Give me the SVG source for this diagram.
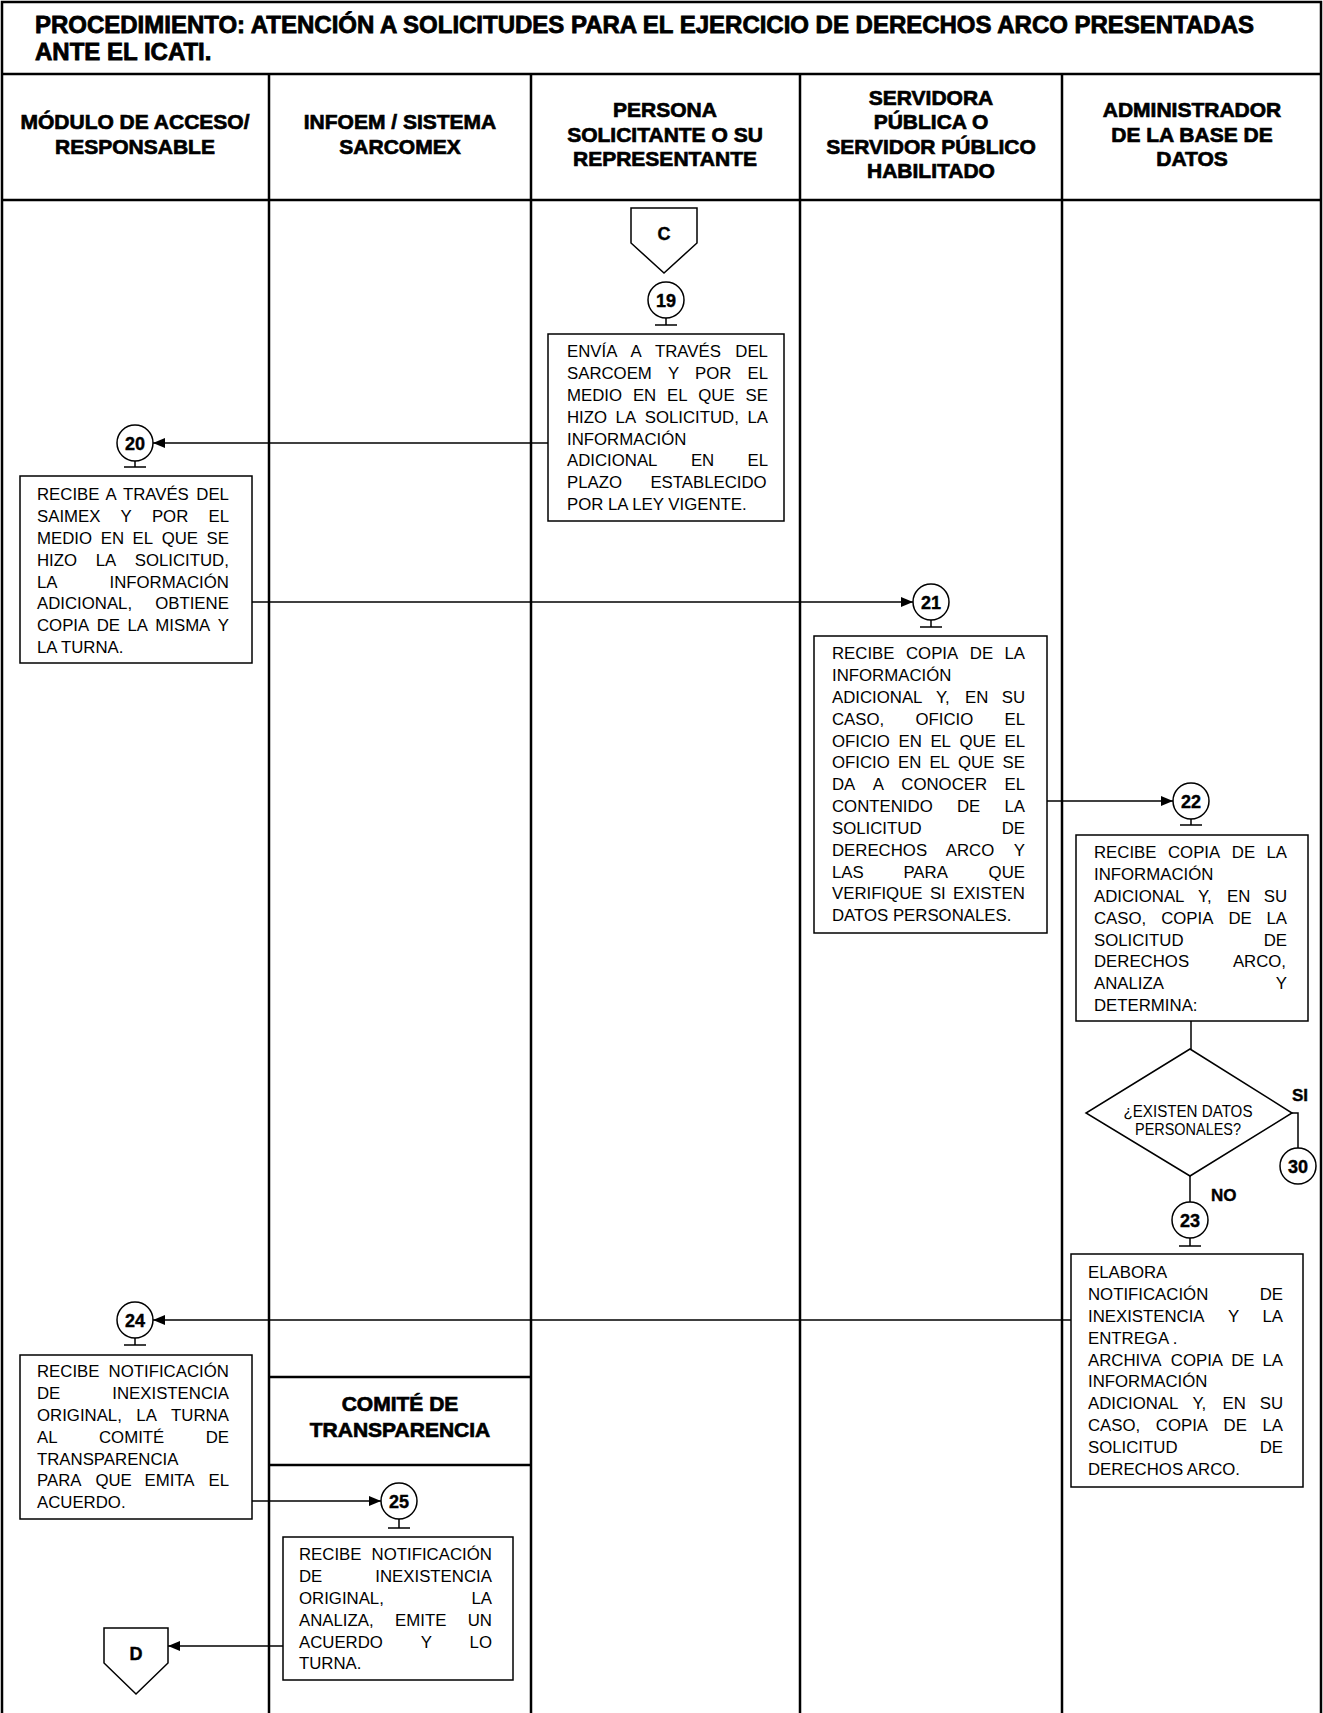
<svg xmlns="http://www.w3.org/2000/svg" width="1323" height="1713" viewBox="0 0 1323 1713">
<style>
.ln{stroke:#000;stroke-width:2.5;fill:none}
.bx{stroke:#000;stroke-width:1.5;fill:#fff}
.cn{stroke:#000;stroke-width:1.5;fill:none}
.t{font-family:"Liberation Sans",Arial,sans-serif;font-size:16.8px;fill:#000}
.h{font-family:"Liberation Sans",Arial,sans-serif;font-weight:bold;font-size:21px;text-anchor:middle;fill:#000;stroke:#000;stroke-width:0.7}
.ttl{font-family:"Liberation Sans",Arial,sans-serif;font-weight:bold;font-size:24px;fill:#000;stroke:#000;stroke-width:0.8}
.n{font-family:"Liberation Sans",Arial,sans-serif;font-weight:bold;font-size:18px;text-anchor:middle;fill:#000;stroke:#000;stroke-width:0.4}
.lb{font-family:"Liberation Sans",Arial,sans-serif;font-weight:bold;font-size:17px;fill:#000;stroke:#000;stroke-width:0.4}
.d{font-family:"Liberation Sans",Arial,sans-serif;font-size:16px;text-anchor:middle;fill:#000}
</style>
<defs>
<marker id="ah" viewBox="0 0 12 10" refX="12" refY="5" markerWidth="13" markerHeight="10" orient="auto" markerUnits="userSpaceOnUse"><path d="M0,0 L12,5 L0,10 z" fill="#000"/></marker>
</defs>
<rect x="0" y="0" width="1323" height="1713" fill="#fff"/>
<g id="lanes">
<path class="ln" d="M2,1713 V2 H1321 V1713 M2,74 H1321 M2,200 H1321 M269,74 V1713 M531,74 V1713 M800,74 V1713 M1062,74 V1713 M269,1377 H531 M269,1465 H531"/>
<text class="ttl" x="35" y="33" textLength="1219" lengthAdjust="spacing">PROCEDIMIENTO: ATENCIÓN A SOLICITUDES PARA EL EJERCICIO DE DERECHOS ARCO PRESENTADAS</text>
<text class="ttl" x="35" y="60">ANTE EL ICATI.</text>
<text class="h" x="135" y="129">MÓDULO DE ACCESO/</text>
<text class="h" x="135" y="154">RESPONSABLE</text>
<text class="h" x="400" y="129">INFOEM / SISTEMA</text>
<text class="h" x="400" y="154">SARCOMEX</text>
<text class="h" x="665" y="117">PERSONA</text>
<text class="h" x="665" y="142">SOLICITANTE O SU</text>
<text class="h" x="665" y="166">REPRESENTANTE</text>
<text class="h" x="931" y="105">SERVIDORA</text>
<text class="h" x="931" y="129">PÚBLICA O</text>
<text class="h" x="931" y="154">SERVIDOR PÚBLICO</text>
<text class="h" x="931" y="178">HABILITADO</text>
<text class="h" x="1192" y="117">ADMINISTRADOR</text>
<text class="h" x="1192" y="142">DE LA BASE DE</text>
<text class="h" x="1192" y="166">DATOS</text>
<text class="h" x="400" y="1411">COMITÉ DE</text>
<text class="h" x="400" y="1437">TRANSPARENCIA</text>
</g>
<g id="connectors">
<path class="cn" d="M548,443 H153" marker-end="url(#ah)"/>
<path class="cn" d="M252,602 H913" marker-end="url(#ah)"/>
<path class="cn" d="M1047,801 H1173" marker-end="url(#ah)"/>
<path class="cn" d="M1191,1021 V1049"/>
<path class="cn" d="M1292,1113 H1298 V1148"/>
<path class="cn" d="M1190,1176 V1202"/>
<path class="cn" d="M1071,1320 H153" marker-end="url(#ah)"/>
<path class="cn" d="M252,1501 H381" marker-end="url(#ah)"/>
<path class="cn" d="M283,1646 H168" marker-end="url(#ah)"/>
</g>
<g id="connector-C">
<path class="bx" d="M631,208 H697 V243 L664,273 L631,243 Z"/>
<text class="n" x="664" y="240">C</text>
</g>
<g id="node-19">
<circle class="bx" cx="666" cy="300" r="18"/>
<text class="n" x="666" y="306.5">19</text>
<path class="cn" d="M666,318 V325 M655,325 H677"/>
<rect class="bx" x="548" y="334" width="236" height="187"/>
<text class="t" y="357"><tspan x="567">ENVÍA</tspan><tspan x="630.6">A</tspan><tspan x="655">TRAVÉS</tspan><tspan x="735.3">DEL</tspan></text>
<text class="t" y="379"><tspan x="567">SARCOEM</tspan><tspan x="667.9">Y</tspan><tspan x="695.1">POR</tspan><tspan x="747.5">EL</tspan></text>
<text class="t" y="401"><tspan x="567">MEDIO</tspan><tspan x="632.9">EN</tspan><tspan x="667">EL</tspan><tspan x="698.3">QUE</tspan><tspan x="745.6">SE</tspan></text>
<text class="t" y="422.5"><tspan x="567">HIZO</tspan><tspan x="615.6">LA</tspan><tspan x="644.7">SOLICITUD,</tspan><tspan x="747.5">LA</tspan></text>
<text class="t" x="567" y="444.5">INFORMACIÓN</text>
<text class="t" y="466"><tspan x="567">ADICIONAL</tspan><tspan x="690.9">EN</tspan><tspan x="747.5">EL</tspan></text>
<text class="t" y="488"><tspan x="567">PLAZO</tspan><tspan x="650.4">ESTABLECIDO</tspan></text>
<text class="t" x="567" y="510">POR LA LEY VIGENTE.</text>
</g>
<g id="node-20">
<circle class="bx" cx="135" cy="443" r="18"/>
<text class="n" x="135" y="449.5">20</text>
<path class="cn" d="M135,461 V467 M124,467 H146"/>
<rect class="bx" x="20" y="476" width="232" height="187"/>
<text class="t" y="500"><tspan x="37">RECIBE</tspan><tspan x="105.6">A</tspan><tspan x="122.9">TRAVÉS</tspan><tspan x="196.3">DEL</tspan></text>
<text class="t" y="522"><tspan x="37">SAIMEX</tspan><tspan x="120.6">Y</tspan><tspan x="151.9">POR</tspan><tspan x="208.5">EL</tspan></text>
<text class="t" y="544"><tspan x="37">MEDIO</tspan><tspan x="100.7">EN</tspan><tspan x="132.6">EL</tspan><tspan x="161.7">QUE</tspan><tspan x="206.6">SE</tspan></text>
<text class="t" y="565.5"><tspan x="37">HIZO</tspan><tspan x="95.7">LA</tspan><tspan x="134.7">SOLICITUD,</tspan></text>
<text class="t" y="587.5"><tspan x="37">LA</tspan><tspan x="109.5">INFORMACIÓN</tspan></text>
<text class="t" y="609"><tspan x="37">ADICIONAL,</tspan><tspan x="155.2">OBTIENE</tspan></text>
<text class="t" y="631"><tspan x="37">COPIA</tspan><tspan x="96.7">DE</tspan><tspan x="127.4">LA</tspan><tspan x="155.3">MISMA</tspan><tspan x="217.8">Y</tspan></text>
<text class="t" x="37" y="653">LA TURNA.</text>
</g>
<g id="node-21">
<circle class="bx" cx="931" cy="602" r="18"/>
<text class="n" x="931" y="608.5">21</text>
<path class="cn" d="M931,620 V627 M920,627 H942"/>
<rect class="bx" x="814" y="636" width="233" height="297"/>
<text class="t" y="659"><tspan x="832">RECIBE</tspan><tspan x="906">COPIA</tspan><tspan x="969.8">DE</tspan><tspan x="1004.5">LA</tspan></text>
<text class="t" x="832" y="681">INFORMACIÓN</text>
<text class="t" y="703"><tspan x="832">ADICIONAL</tspan><tspan x="935.9">Y,</tspan><tspan x="965.1">EN</tspan><tspan x="1001.7">SU</tspan></text>
<text class="t" y="724.5"><tspan x="832">CASO,</tspan><tspan x="915.5">OFICIO</tspan><tspan x="1004.5">EL</tspan></text>
<text class="t" y="746.5"><tspan x="832">OFICIO</tspan><tspan x="898.5">EN</tspan><tspan x="930.4">EL</tspan><tspan x="959.5">QUE</tspan><tspan x="1004.5">EL</tspan></text>
<text class="t" y="768"><tspan x="832">OFICIO</tspan><tspan x="898">EN</tspan><tspan x="929.4">EL</tspan><tspan x="958">QUE</tspan><tspan x="1002.6">SE</tspan></text>
<text class="t" y="790"><tspan x="832">DA</tspan><tspan x="872.7">A</tspan><tspan x="901.3">CONOCER</tspan><tspan x="1004.5">EL</tspan></text>
<text class="t" y="812"><tspan x="832">CONTENIDO</tspan><tspan x="957">DE</tspan><tspan x="1004.5">LA</tspan></text>
<text class="t" y="834"><tspan x="832">SOLICITUD</tspan><tspan x="1001.7">DE</tspan></text>
<text class="t" y="855.5"><tspan x="832">DERECHOS</tspan><tspan x="945.8">ARCO</tspan><tspan x="1013.8">Y</tspan></text>
<text class="t" y="877.5"><tspan x="832">LAS</tspan><tspan x="903.4">PARA</tspan><tspan x="988.6">QUE</tspan></text>
<text class="t" y="899"><tspan x="832">VERIFIQUE</tspan><tspan x="929.9">SI</tspan><tspan x="953.1">EXISTEN</tspan></text>
<text class="t" x="832" y="921">DATOS PERSONALES.</text>
</g>
<g id="node-22">
<circle class="bx" cx="1191" cy="801" r="18"/>
<text class="n" x="1191" y="807.5">22</text>
<path class="cn" d="M1191,819 V825 M1180,825 H1202"/>
<rect class="bx" x="1076" y="835" width="232" height="186"/>
<text class="t" y="858"><tspan x="1094">RECIBE</tspan><tspan x="1168">COPIA</tspan><tspan x="1231.8">DE</tspan><tspan x="1266.5">LA</tspan></text>
<text class="t" x="1094" y="880">INFORMACIÓN</text>
<text class="t" y="902"><tspan x="1094">ADICIONAL</tspan><tspan x="1197.9">Y,</tspan><tspan x="1227.1">EN</tspan><tspan x="1263.7">SU</tspan></text>
<text class="t" y="923.5"><tspan x="1094">CASO,</tspan><tspan x="1161.2">COPIA</tspan><tspan x="1228.4">DE</tspan><tspan x="1266.5">LA</tspan></text>
<text class="t" y="945.5"><tspan x="1094">SOLICITUD</tspan><tspan x="1263.7">DE</tspan></text>
<text class="t" y="967"><tspan x="1094">DERECHOS</tspan><tspan x="1232.9">ARCO,</tspan></text>
<text class="t" y="989"><tspan x="1094">ANALIZA</tspan><tspan x="1275.8">Y</tspan></text>
<text class="t" x="1094" y="1011">DETERMINA:</text>
</g>
<g id="decision">
<path class="bx" d="M1190,1049 L1292,1113 L1190,1176 L1086,1113 Z"/>
<text class="d" x="1188" y="1117" textLength="129" lengthAdjust="spacingAndGlyphs">¿EXISTEN DATOS</text>
<text class="d" x="1188" y="1135" textLength="106" lengthAdjust="spacingAndGlyphs">PERSONALES?</text>
<text class="lb" x="1292" y="1101">SI</text>
<text class="lb" x="1211" y="1201">NO</text>
</g>
<g id="node-30">
<circle class="bx" cx="1298" cy="1166" r="18"/>
<text class="n" x="1298" y="1172.5">30</text>
</g>
<g id="node-23">
<circle class="bx" cx="1190" cy="1220" r="18"/>
<text class="n" x="1190" y="1226.5">23</text>
<path class="cn" d="M1190,1238 V1246 M1179,1246 H1201"/>
<rect class="bx" x="1071" y="1254" width="232" height="233"/>
<text class="t" x="1088" y="1278">ELABORA</text>
<text class="t" y="1300"><tspan x="1088">NOTIFICACIÓN</tspan><tspan x="1259.7">DE</tspan></text>
<text class="t" y="1322"><tspan x="1088">INEXISTENCIA</tspan><tspan x="1228">Y</tspan><tspan x="1262.5">LA</tspan></text>
<text class="t" x="1088" y="1343.5">ENTREGA .</text>
<text class="t" y="1365.5"><tspan x="1088">ARCHIVA</tspan><tspan x="1170.8">COPIA</tspan><tspan x="1231.2">DE</tspan><tspan x="1262.5">LA</tspan></text>
<text class="t" x="1088" y="1387">INFORMACIÓN</text>
<text class="t" y="1409"><tspan x="1088">ADICIONAL</tspan><tspan x="1192.6">Y,</tspan><tspan x="1222.5">EN</tspan><tspan x="1259.7">SU</tspan></text>
<text class="t" y="1431"><tspan x="1088">CASO,</tspan><tspan x="1155.8">COPIA</tspan><tspan x="1223.6">DE</tspan><tspan x="1262.5">LA</tspan></text>
<text class="t" y="1453"><tspan x="1088">SOLICITUD</tspan><tspan x="1259.7">DE</tspan></text>
<text class="t" x="1088" y="1474.5">DERECHOS ARCO.</text>
</g>
<g id="node-24">
<circle class="bx" cx="135" cy="1320" r="18"/>
<text class="n" x="135" y="1326.5">24</text>
<path class="cn" d="M135,1338 V1345 M124,1345 H146"/>
<rect class="bx" x="20" y="1355" width="232" height="164"/>
<text class="t" y="1377"><tspan x="37">RECIBE</tspan><tspan x="108.6">NOTIFICACIÓN</tspan></text>
<text class="t" y="1399"><tspan x="37">DE</tspan><tspan x="112.3">INEXISTENCIA</tspan></text>
<text class="t" y="1421"><tspan x="37">ORIGINAL,</tspan><tspan x="136.3">LA</tspan><tspan x="171.1">TURNA</tspan></text>
<text class="t" y="1442.5"><tspan x="37">AL</tspan><tspan x="99">COMITÉ</tspan><tspan x="205.7">DE</tspan></text>
<text class="t" x="37" y="1464.5">TRANSPARENCIA</text>
<text class="t" y="1486"><tspan x="37">PARA</tspan><tspan x="95.4">QUE</tspan><tspan x="144.5">EMITA</tspan><tspan x="208.5">EL</tspan></text>
<text class="t" x="37" y="1508">ACUERDO.</text>
</g>
<g id="node-25">
<circle class="bx" cx="399" cy="1501" r="18"/>
<text class="n" x="399" y="1507.5">25</text>
<path class="cn" d="M399,1519 V1528 M388,1528 H410"/>
<rect class="bx" x="283" y="1537" width="230" height="143"/>
<text class="t" y="1560"><tspan x="299">RECIBE</tspan><tspan x="371.6">NOTIFICACIÓN</tspan></text>
<text class="t" y="1582"><tspan x="299">DE</tspan><tspan x="375.3">INEXISTENCIA</tspan></text>
<text class="t" y="1604"><tspan x="299">ORIGINAL,</tspan><tspan x="471.5">LA</tspan></text>
<text class="t" y="1625.5"><tspan x="299">ANALIZA,</tspan><tspan x="395.1">EMITE</tspan><tspan x="467.7">UN</tspan></text>
<text class="t" y="1647.5"><tspan x="299">ACUERDO</tspan><tspan x="420.7">Y</tspan><tspan x="469.6">LO</tspan></text>
<text class="t" x="299" y="1669">TURNA.</text>
</g>
<g id="connector-D">
<path class="bx" d="M104,1628 H168 V1663 L136,1694 L104,1663 Z"/>
<text class="n" x="136" y="1660">D</text>
</g>
</svg>
